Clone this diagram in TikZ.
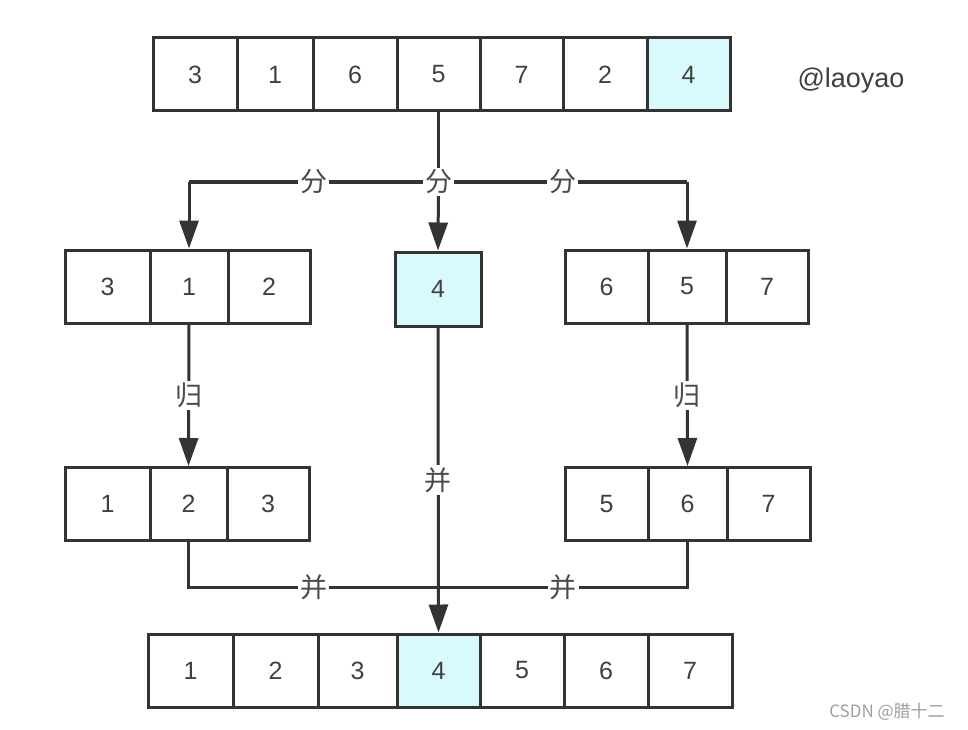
\documentclass[tikz,border=0pt]{standalone}
\usepackage{fontspec}
\setmainfont{Liberation Sans}
\newfontfamily\cjk{Noto Sans CJK SC}
\usetikzlibrary{arrows.meta,calc}
\definecolor{lnc}{HTML}{333333}
\definecolor{hl}{HTML}{D8FAFD}
\definecolor{txt}{HTML}{404040}
\definecolor{lbl}{HTML}{4A4A4A}
\tikzset{
  cell/.style={draw=lnc, line width=3pt, inner sep=0pt, minimum height=73pt, text=txt, font=\fontsize{25}{25}\selectfont},
  hlcell/.style={cell, fill=hl},
  conn/.style={draw=lnc, line width=3pt},
  arr/.style={conn, -{Triangle[length=28pt,width=19pt]}},
  lab/.style={fill=white, inner sep=2pt, text=lbl, font=\cjk\fontsize{27}{27}\selectfont}
}
\begin{document}
\begin{tikzpicture}[x=1pt,y=-1pt]
\useasboundingbox (0,0) rectangle (968,730);
% top row
\node[cell, minimum width=84pt] (t1) at (195,74.5) {3};
\node[cell, minimum width=76pt] (t2) at (275,74.5) {1};
\node[cell, minimum width=84pt] (t3) at (355,74.5) {6};
\node[cell, minimum width=83pt] (t4) at (438.5,74.5) {5};
\node[cell, minimum width=83pt] (t5) at (521.5,74.5) {7};
\node[cell, minimum width=84pt] (t6) at (605,74.5) {2};
\node[hlcell, minimum width=83pt] (t7) at (688.5,74.5) {4};
% middle row
\node[cell, minimum width=85pt] (l1) at (107.5,286.5) {3};
\node[cell, minimum width=78pt] (l2) at (189,286.5) {1};
\node[cell, minimum width=82pt] (l3) at (269,286.5) {2};
\node[hlcell, minimum width=86pt, minimum height=74pt] (m4) at (438,289) {4};
\node[cell, minimum width=83pt] (r1) at (606.5,286.5) {6};
\node[cell, minimum width=78pt] (r2) at (687,286.5) {5};
\node[cell, minimum width=82pt] (r3) at (767,286.5) {7};
% third row
\node[cell, minimum width=85pt] (ll1) at (107.5,504) {1};
\node[cell, minimum width=77pt] (ll2) at (188.5,504) {2};
\node[cell, minimum width=82pt] (ll3) at (268,504) {3};
\node[cell, minimum width=83pt] (rr1) at (606.5,504) {5};
\node[cell, minimum width=79pt] (rr2) at (687.5,504) {6};
\node[cell, minimum width=83pt] (rr3) at (768.5,504) {7};
% bottom row
\node[cell, minimum width=85pt] (b1) at (190.5,670.5) {1};
\node[cell, minimum width=85pt] (b2) at (275.5,670.5) {2};
\node[cell, minimum width=79pt] (b3) at (357.5,670.5) {3};
\node[hlcell, minimum width=83pt] (b4) at (438.5,670.5) {4};
\node[cell, minimum width=84pt] (b5) at (522,670.5) {5};
\node[cell, minimum width=84pt] (b6) at (606,670.5) {6};
\node[cell, minimum width=84pt] (b7) at (690,670.5) {7};
% split connectors
\coordinate (j1) at (t4.south |- 0,182);
\coordinate (jl) at (l2.north |- j1);
\coordinate (jr) at (r2.north |- j1);
\draw[conn] (t4.south) -- (j1);
\draw[conn] (jl) -- (jr);
\draw[arr] (j1) -- (m4.north);
\draw[arr] (jl) -- (l2.north);
\draw[arr] (jr) -- (r2.north);
\node[lab] (s1) at ($(jl)!0.5!(j1)$) {分};
\node[lab] (s2) at (j1) {分};
\node[lab] (s3) at ($(j1)!0.5!(jr)$) {分};
% recursive
\draw[arr] (l2.south) -- (ll2.north) node[lab, midway] (g1) {归};
\draw[arr] (r2.south) -- (rr2.north) node[lab, midway] (g2) {归};
% merge
\coordinate (kl) at (ll2.south |- 0,587);
\coordinate (kr) at (rr2.south |- 0,587);
\coordinate (kc) at (b4.north |- kl);
\draw[conn] (ll2.south) -- (kl) -- (kr) -- (rr2.south);
\draw[arr] (m4.south) -- (b4.north) node[lab, pos=0.5] (p0) {并};
\node[lab] (p1) at ($(kl)!0.5!(kc)$) {并};
\node[lab] (p2) at ($(kc)!0.5!(kr)$) {并};
% texts
\node[text=txt, font=\fontsize{27}{27}\selectfont] (author) at (851,81) {@laoyao};
\node[text=black!38, font=\cjk\fontsize{17}{17}\selectfont] (wm) at (887,712) {CSDN @腊十二};
\end{tikzpicture}
\end{document}
